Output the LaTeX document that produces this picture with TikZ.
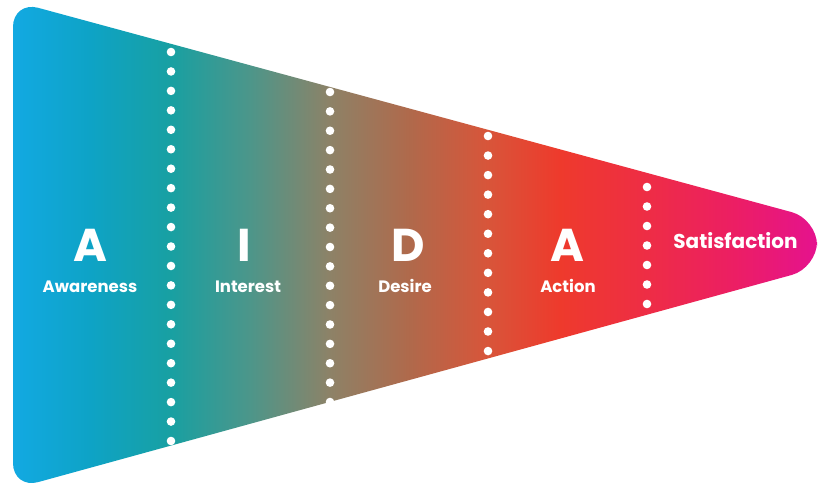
\documentclass[tikz,border=0pt]{standalone}
\usepackage{fontspec}
\setmainfont{Poppins}
\definecolor{c0}{HTML}{12A9E2}
\definecolor{c1}{HTML}{0EA3C6}
\definecolor{c2}{HTML}{18A0A2}
\definecolor{c3}{HTML}{4C968A}
\definecolor{c4}{HTML}{8D8267}
\definecolor{c5}{HTML}{B0694B}
\definecolor{c6}{HTML}{D8553A}
\definecolor{c7}{HTML}{EE3A2C}
\definecolor{c8}{HTML}{EE2D45}
\definecolor{c9}{HTML}{EC1E64}
\definecolor{c10}{HTML}{E5128E}
\pgfdeclarehorizontalshading{aida}{100bp}{color(0bp)=(c0); color(25bp)=(c0); color(29.8bp)=(c1); color(34.8bp)=(c2); color(39.7bp)=(c3); color(44.7bp)=(c4); color(49.7bp)=(c5); color(54.5bp)=(c6); color(59bp)=(c7); color(64.4bp)=(c8); color(69.9bp)=(c9); color(75bp)=(c10); color(100bp)=(c10)}
\tikzset{
  bigletter/.style={text=white, anchor=base, font=\fontsize{46}{46}\selectfont\bfseries, inner sep=0pt},
  stagelabel/.style={text=white, anchor=base, font=\fontsize{16.5}{16.5}\selectfont\bfseries, inner sep=0pt},
  satlabel/.style={text=white, anchor=base, font=\fontsize{20}{20}\selectfont\bfseries, inner sep=0pt},
  dot/.style={fill=white}
}
\begin{document}
\begin{tikzpicture}[x=1pt,y=-1pt]
\useasboundingbox[fill=white] (0,0) rectangle (818,487);
\shade[shading=aida, rounded corners=26pt] (13,1) -- (817,219) -- (817,268) -- (13,489) -- cycle;
% dotted dividers
\foreach \i in {0,...,20} \fill[dot] (171,52+19.45*\i) circle (4.3pt);
\foreach \i in {0,...,16} \fill[dot] (330,92+19.375*\i) circle (4.3pt);
\foreach \i in {0,...,11} \fill[dot] (488,136+19.55*\i) circle (4.3pt);
\foreach \i in {0,...,6} \fill[dot] (647,187+19.5*\i) circle (4.3pt);
% letters
\node[bigletter] (la) at (90,261) {A};
\node[bigletter] (li) at (244,261) {I};
\node[bigletter] (ld) at (408,261) {D};
\node[bigletter] (lb) at (567,261) {A};
\node[stagelabel] (aw) at (90,292.5) {Awareness};
\node[stagelabel] (in) at (248,292.5) {Interest};
\node[stagelabel] (de) at (405,292.5) {Desire};
\node[stagelabel] (ac) at (568,292.5) {Action};
\node[satlabel] (sa) at (735.5,248) {Satisfaction};
\end{tikzpicture}
\end{document}
